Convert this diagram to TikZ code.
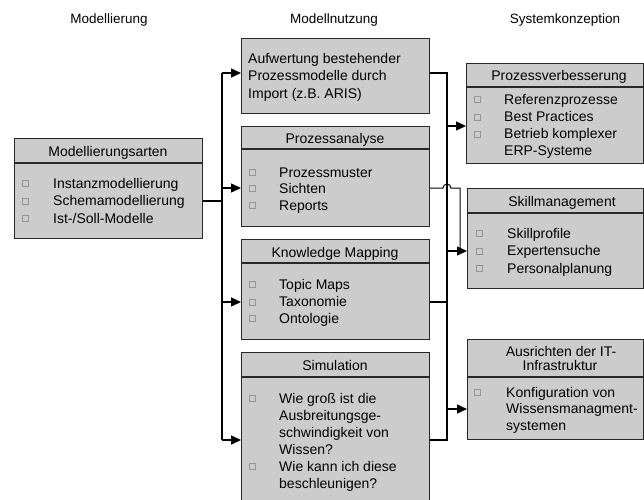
\documentclass[tikz,border=0pt]{standalone}
\usepackage{fontspec}
\setmainfont{Liberation Sans}
\usetikzlibrary{arrows.meta}
\definecolor{boxfill}{RGB}{204,204,204}
\definecolor{boxline}{RGB}{40,40,40}
\definecolor{cbline}{RGB}{150,150,150}

\tikzset{
  panel/.style={draw=boxline, line width=1.1pt, fill=boxfill, inner sep=0pt, anchor=north west},
  sep/.style={draw=boxline, line width=1.1pt},
  txt/.style={inner sep=0pt, font=\fontsize{14}{17}\selectfont},
  coltitle/.style={inner sep=0pt, anchor=base, font=\fontsize{13.5}{16}\selectfont},
  cb/.style={draw=cbline, fill=boxfill, minimum size=6pt, inner sep=0pt, line width=0.5pt},
  conn/.style={line width=1.4pt, black},
  arr/.style={conn, -{Triangle[length=10pt,width=9pt]}},
}

% #1 name prefix, #2 left x, #3 first baseline, #4 line step, #5 lines
\newcommand\txtlines[5]{%
  \foreach \t [count=\i] in {#5} {
    \node[txt, anchor=base west] (#1-\i) at (#2,{#3+(\i-1)*#4}) {\t};
  }%
}

\begin{document}
\begin{tikzpicture}[x=1pt,y=-1pt]
\useasboundingbox (0,0) rectangle (644,499);

% column titles
\node[coltitle] (t1) at (109,23) {Modellierung};
\node[coltitle] (t2) at (334,23) {Modellnutzung};
\node[coltitle] (t3) at (565,23) {Systemkonzeption};

% panels
\node[panel, minimum width=188pt, minimum height=100pt] (mod) at (14,138) {};
\node[panel, minimum width=188pt, minimum height=75pt]  (auf) at (241,38) {};
\node[panel, minimum width=188pt, minimum height=100pt] (pa)  at (241,126) {};
\node[panel, minimum width=188pt, minimum height=100pt] (km)  at (241,239) {};
\node[panel, minimum width=188pt, minimum height=170pt] (sim) at (241,352) {};
\node[panel, minimum width=177pt, minimum height=100pt] (pv)  at (466,63) {};
\node[panel, minimum width=176pt, minimum height=100pt] (sk)  at (467,188) {};
\node[panel, minimum width=176pt, minimum height=100pt] (it)  at (467,339) {};

% header separators
\draw[sep] (mod.west |- 0,163) -- (mod.east |- 0,163);
\draw[sep] (pa.west |- 0,149) -- (pa.east |- 0,149);
\draw[sep] (km.west |- 0,263) -- (km.east |- 0,263);
\draw[sep] (sim.west |- 0,377) -- (sim.east |- 0,377);
\draw[sep] (pv.west |- 0,87) -- (pv.east |- 0,87);
\draw[sep] (sk.west |- 0,213) -- (sk.east |- 0,213);
\draw[sep] (it.west |- 0,377) -- (it.east |- 0,377);

% headers
\node[txt, anchor=base] (mod-h) at (108,156) {Modellierungsarten};
\node[txt, anchor=base] (pa-h)  at (335,143) {Prozessanalyse};
\node[txt, anchor=base] (km-h)  at (335,257) {Knowledge Mapping};
\node[txt, anchor=base] (sim-h) at (335,370) {Simulation};
\node[txt, anchor=base] (pv-h)  at (559,80) {Prozessverbesserung};
\node[txt, anchor=base] (sk-h)  at (562,206) {Skillmanagement};
\node[txt, anchor=base] (it-h1) at (561,356) {Ausrichten der IT-};
\node[txt, anchor=base] (it-h2) at (560,370.5) {Infrastruktur};

% body texts
\txtlines{mod}{53}{188}{17.5}{Instanzmodellierung,Schemamodellierung,Ist-/Soll-Modelle}
\txtlines{auf}{248}{63}{17.5}{Aufwertung bestehender,Prozessmodelle durch,Import (z.B. ARIS)}
\txtlines{pa}{279}{177}{16.5}{Prozessmuster,Sichten,Reports}
\txtlines{km}{279}{289}{17}{Topic Maps,Taxonomie,Ontologie}
\txtlines{sim}{279}{403}{17}{Wie groß ist die,Ausbreitungsge-,schwindigkeit von,Wissen?,Wie kann ich diese,beschleunigen?}
\txtlines{pv}{504}{104}{17.3}{Referenzprozesse,Best Practices,Betrieb komplexer,ERP-Systeme}
\txtlines{sk}{507}{238}{17.5}{Skillprofile,Expertensuche,Personalplanung}
\txtlines{it}{506}{397}{16.5}{Konfiguration von,Wissensmanagment-,systemen}

% check boxes
\foreach \y [count=\i] in {183,201,218} \node[cb] (mod-cb\i) at (25,\y) {};
\foreach \y [count=\i] in {172,188,205} \node[cb] (pa-cb\i) at (252,\y) {};
\foreach \y [count=\i] in {284,302,318} \node[cb] (km-cb\i) at (252,\y) {};
\foreach \y [count=\i] in {398,466} \node[cb] (sim-cb\i) at (252,\y) {};
\foreach \y [count=\i] in {99,117,134} \node[cb] (pv-cb\i) at (477,\y) {};
\foreach \y [count=\i] in {233,251,268} \node[cb] (sk-cb\i) at (479,\y) {};
\node[cb] (it-cb1) at (477,392) {};

% left distribution bus
\coordinate (lb-top) at (222,73);
\coordinate (lb-bot) at (222,440);
\draw[conn] (lb-top) -- (lb-bot);
\draw[conn] (mod.east |- 0,201) -- (lb-top |- 0,201);
\draw[arr] (lb-top) -- (auf.west |- lb-top);
\draw[arr] (lb-top |- 0,188) -- (pa.west |- 0,188);
\draw[arr] (lb-top |- 0,302) -- (km.west |- 0,302);
\draw[arr] (lb-bot) -- (sim.west |- lb-bot);

% right collecting bus
\coordinate (rb-top) at (447,73);
\coordinate (rb-bot) at (447,440);
\draw[conn] (auf.east |- rb-top) -- (rb-top) -- (rb-bot) -- (sim.east |- rb-bot);
\draw[conn] (km.east |- 0,302) -- (rb-top |- 0,302);
\draw[arr] (rb-top |- 0,126) -- (pv.west |- 0,126);
\draw[arr] (rb-top |- 0,251) -- (sk.west |- 0,251);
\draw[arr] (rb-top |- 0,409) -- (it.west |- 0,409);

% process analysis feeds skill management, hopping over the bus
\coordinate (jp) at (460,251);
\draw[conn, line width=1pt] (pa.east |- 0,188) -- (443,188)
  arc[start angle=180, end angle=0, radius=4pt] -- (jp |- 0,188) -- (jp);
\end{tikzpicture}
\end{document}
